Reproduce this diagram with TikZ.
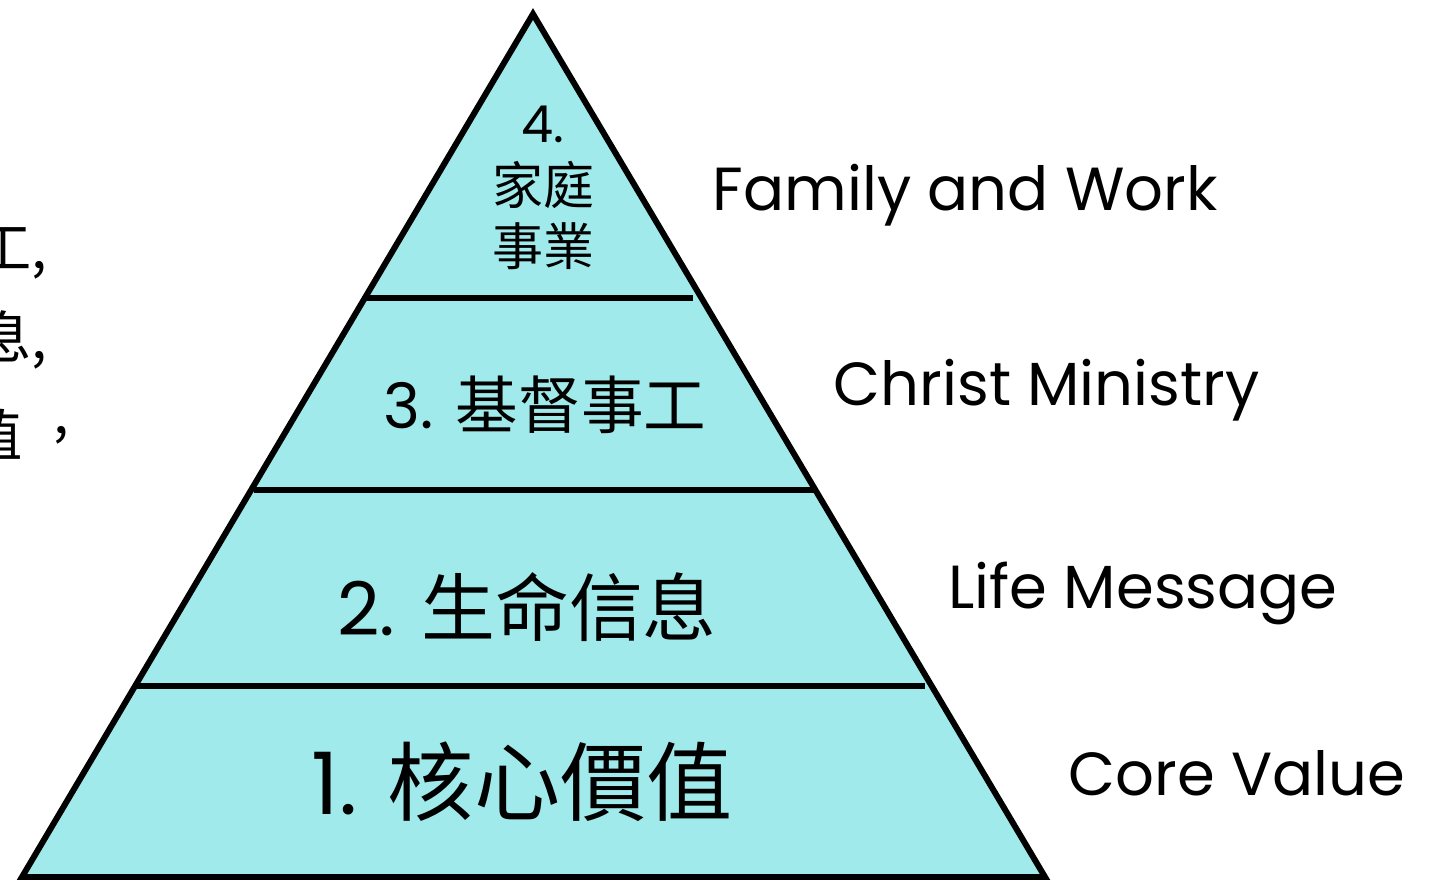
\documentclass[tikz,border=0pt]{standalone}
\usepackage{fontspec}
\setmainfont{Poppins}
\newfontfamily\cjk{Noto Sans CJK TC}
\definecolor{pyramidcolor}{RGB}{160,234,236}
\definecolor{notered}{RGB}{255,0,0}
\tikzset{
  layerline/.style={line width=1.7pt},
  sidelabel/.style={anchor=west, inner sep=0pt, font=\fontsize{17.3}{20}\selectfont},
  notetext/.style={anchor=east, inner sep=0pt, font=\cjk\fontsize{16}{18}\selectfont}
}
\begin{document}
\begin{tikzpicture}[x=0.01cm,y=-0.01cm]
\useasboundingbox (0,0) rectangle (1429,880);
\clip (0,0) rectangle (1429,880);
% pyramid
\coordinate (apex) at (533,14);
\coordinate (bl) at (22,877);
\coordinate (br) at (1045,877);
\filldraw[fill=pyramidcolor, line width=1.7pt, miter limit=20] (apex)--(bl)--(br)--cycle;
% layer borders
\coordinate (l3a) at (365,298);
\coordinate (l3b) at (693,298);
\coordinate (l2a) at (254,490);
\coordinate (l2b) at (815,490);
\coordinate (l1a) at (135,686);
\coordinate (l1b) at (925,686);
\draw[layerline] (l3a)--(l3b);
\draw[layerline] (l2a)--(l2b);
\draw[layerline] (l1a)--(l1b);
% layer texts
\node[align=center, inner sep=0pt, font=\fontsize{14.5}{17.5}\selectfont] (level4) at (543,188)
  {4.\\{\cjk 家庭}\\{\cjk 事業}};
\node[inner sep=0pt, font=\fontsize{17.8}{20}\selectfont] (level3) at (545,405) {3. {\cjk 基督事工}};
\node[inner sep=0pt, font=\fontsize{21}{24}\selectfont] (level2) at (527,607) {2. {\cjk 生命信息}};
\node[inner sep=0pt, font=\fontsize{24.5}{27}\selectfont] (level1) at (522,782) {1. {\cjk 核心價值}};
% English names
\node[sidelabel] (name4) at (712,195) {Family and Work};
\node[sidelabel] (name3) at (833,390) {Christ Ministry};
\node[sidelabel] (name2) at (948,593) {Life Message};
\node[sidelabel] (name1) at (1068,773) {Core Value};
% notes cut off at the left edge
\node[notetext] (note1) at (48,250) {基督事工,};
\node[notetext] (note2) at (48,340) {生命信息,};
\node[notetext] (note3) at (70,435) {核心價值\hspace{0.55em}\raisebox{0.4em}{,}};
\node[notetext, text=notered] (note4) at (14,525) {。};
\end{tikzpicture}
\end{document}
